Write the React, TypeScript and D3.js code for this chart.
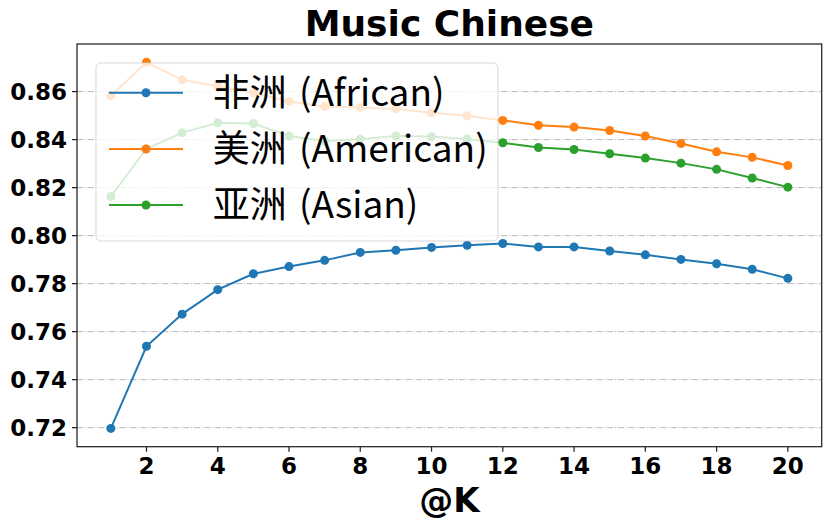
import React from "react";
import * as d3 from "d3";

const kValues = [1, 2, 3, 4, 5, 6, 7, 8, 9, 10, 11, 12, 13, 14, 15, 16, 17, 18, 19, 20];
const african = [0.7197, 0.7539, 0.7673, 0.7775, 0.7841, 0.7871, 0.7897, 0.793, 0.7939, 0.7951, 0.796, 0.7967, 0.7953, 0.7953, 0.7936, 0.792, 0.7901, 0.7883, 0.786, 0.7822];
const american = [0.8582, 0.8722, 0.8649, 0.8622, 0.8595, 0.8559, 0.8538, 0.8534, 0.8528, 0.8512, 0.8499, 0.848, 0.846, 0.8452, 0.8438, 0.8415, 0.8384, 0.8349, 0.8326, 0.8292];
const asian = [0.8163, 0.8362, 0.8428, 0.847, 0.8467, 0.8415, 0.8394, 0.8402, 0.8415, 0.8413, 0.8402, 0.8387, 0.8367, 0.8359, 0.8341, 0.8323, 0.8302, 0.8276, 0.824, 0.8202];
const seriesNames = ["非洲 (African)", "美洲 (American)", "亚洲 (Asian)"];
const seriesColors = ["#1f77b4", "#ff7f0e", "#2ca02c"];
const xTicks = [2, 4, 6, 8, 10, 12, 14, 16, 18, 20];
const yTicks = [0.72, 0.74, 0.76, 0.78, 0.8, 0.82, 0.84, 0.86];
const title = "Music Chinese";
const xLabel = "@K";

export default function App() {
  const W = 830, H = 528;
  const left = 77, right = 821.7, top = 44, bottom = 446.7;
  const allVals = [...african, ...american, ...asian];
  const yMin = d3.min(allVals)!, yMax = d3.max(allVals)!;
  const yPad = (yMax - yMin) * 0.05;
  const x = d3.scaleLinear().domain([1 - 0.95, 20 + 0.95]).range([left, right]);
  const y = d3.scaleLinear().domain([yMin - yPad, yMax + yPad]).range([bottom, top]);
  const series = [african, american, asian];
  const line = d3.line<number>().x((_, i) => x(kValues[i])).y((d) => y(d));
  const tickFont = "'DejaVu Sans', sans-serif";

  // legend
  const F = 37;
  const lgX = 96, lgY = 63, lgW = 402, lgH = 178;
  const rowYs = [92.7, 149, 205];

  return (
    <svg width={W} height={H} style={{ position: "absolute", left: 0, top: 0, background: "#fff" }}>
      <rect x={0} y={0} width={W} height={H} fill="#fff" />
      {/* grid */}
      {yTicks.map((t) => (
        <line key={"g" + t} x1={left} x2={right} y1={y(t)} y2={y(t)} stroke="#b8b8b8" strokeWidth={1} strokeDasharray="6.4,1.6,1,1.6" />
      ))}
      {/* lines */}
      {series.map((s, si) => (
        <g key={"s" + si}>
          <path d={line(s)!} fill="none" stroke={seriesColors[si]} strokeWidth={2} />
          {s.map((v, i) => (
            <circle key={i} cx={x(kValues[i])} cy={y(v)} r={4.5} fill={seriesColors[si]} />
          ))}
        </g>
      ))}
      {/* frame */}
      <rect x={left} y={top} width={right - left} height={bottom - top} fill="none" stroke="#222" strokeWidth={1.25} />
      {/* y ticks */}
      {yTicks.map((t) => (
        <g key={"y" + t}>
          <line x1={left - 5} x2={left} y1={y(t)} y2={y(t)} stroke="#222" strokeWidth={1.25} />
          <text x={left - 10} y={y(t)} dy="0.36em" textAnchor="end" fontFamily={tickFont} fontWeight="bold" fontSize={23}>
            {d3.format(".2f")(t)}
          </text>
        </g>
      ))}
      {/* x ticks */}
      {xTicks.map((t) => (
        <g key={"x" + t}>
          <line x1={x(t)} x2={x(t)} y1={bottom} y2={bottom + 5} stroke="#222" strokeWidth={1.25} />
          <text x={x(t)} y={bottom + 10} dy="0.76em" textAnchor="middle" fontFamily={tickFont} fontWeight="bold" fontSize={23}>
            {t}
          </text>
        </g>
      ))}
      {/* title */}
      <text x={(left + right) / 2} y={36} textAnchor="middle" fontFamily={tickFont} fontWeight="bold" fontSize={36}>
        {title}
      </text>
      {/* x label */}
      <text x={(left + right) / 2} y={512} textAnchor="middle" fontFamily={tickFont} fontWeight="bold" fontSize={34}>
        {xLabel}
      </text>
      {/* legend */}
      <rect x={lgX} y={lgY} width={lgW} height={lgH} rx={5} ry={5} fill="#fff" fillOpacity={0.8} stroke="#cccccc" strokeOpacity={0.8} strokeWidth={1} />
      {seriesNames.map((name, i) => (
        <g key={"l" + i}>
          <line x1={109} x2={183} y1={rowYs[i]} y2={rowYs[i]} stroke={seriesColors[i]} strokeWidth={2} />
          <circle cx={146} cy={rowYs[i]} r={4.5} fill={seriesColors[i]} />
          <text x={212.7} y={rowYs[i]} dy="0.36em" fontFamily="'Noto Sans CJK SC', sans-serif" fontSize={F} fill="#000" wordSpacing={4}>
            {name}
          </text>
        </g>
      ))}
    </svg>
  );
}
